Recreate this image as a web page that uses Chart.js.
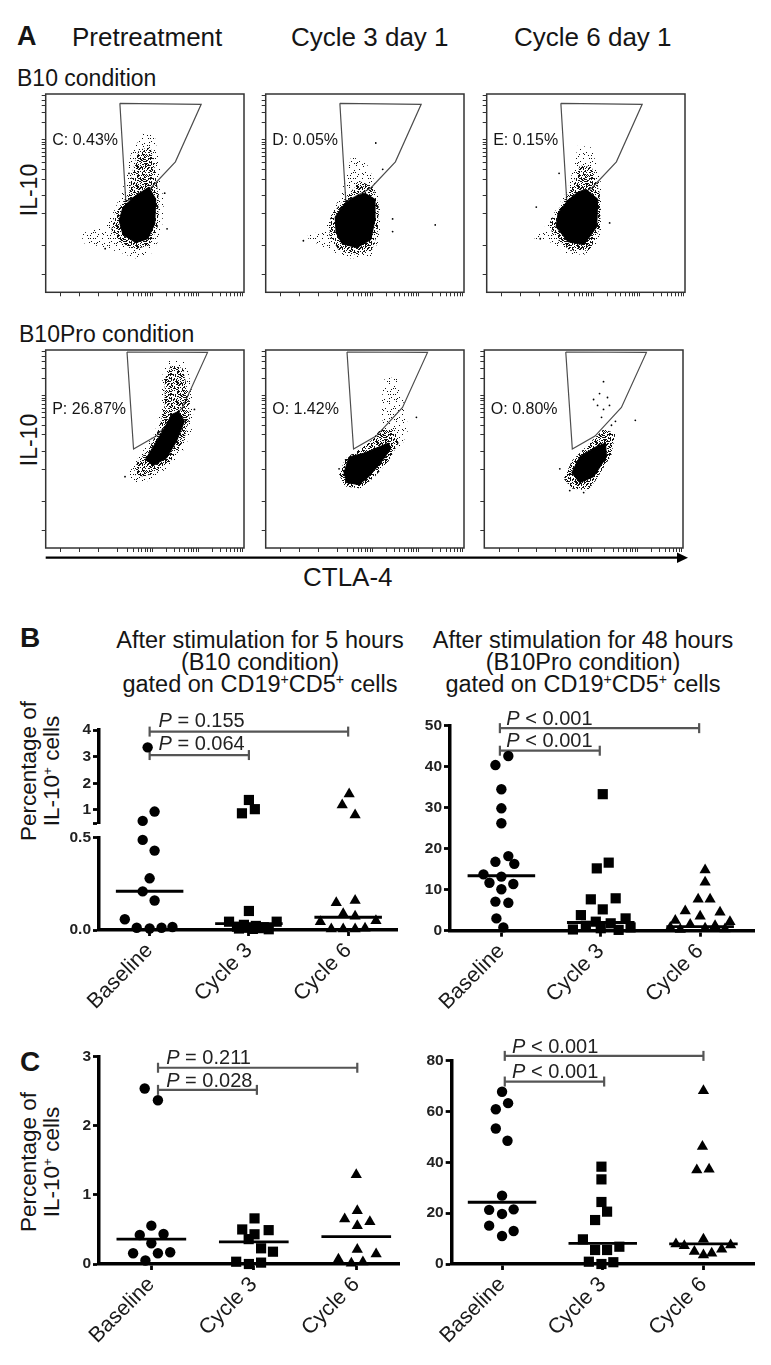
<!DOCTYPE html>
<html>
<head>
<meta charset="utf-8">
<script src="https://cdn.jsdelivr.net/npm/chart.js@4.4.1/dist/chart.umd.min.js"></script>
<style>
  html, body { margin: 0; padding: 0; background: #fff; }
  #fig { position: relative; width: 771px; height: 1365px; overflow: hidden;
         font-family: "Liberation Sans", Arial, Helvetica, sans-serif; color: #151515; }
  #fig canvas { position: absolute; }
  .t { position: absolute; white-space: nowrap; line-height: 1; }
  .rot { position: absolute; white-space: nowrap; text-align: center; transform: translate(-50%, -50%) rotate(-90deg); }
  .ctr { position: absolute; white-space: nowrap; text-align: center; transform: translateX(-50%); }
  sup { font-size: 0.6em; vertical-align: 0; position: relative; top: -0.55em; line-height: 0; }
</style>
</head>
<body>
<div id="fig"></div>
<script>
// ============================================================
// IL-10 / CTLA-4 figure: flow plots (A) + dot plots (B, C)
// ============================================================
const FONT = '"Liberation Sans", Arial, Helvetica, sans-serif';

// ---------- panel A: flow plots, axes in display units 0..1 ----------
const timepoints = ["Pretreatment", "Cycle 3 day 1", "Cycle 6 day 1"];
const flowLabels = ["C: 0.43%", "D: 0.05%", "E: 0.15%", "P: 26.87%", "O: 1.42%", "O: 0.80%"];
const flowYTicks = [0.09, 0.236, 0.395, 0.486, 0.571, 0.621, 0.657, 0.685, 0.707, 0.726, 0.743, 0.757, 0.77,
                    0.855, 0.905, 0.941, 0.969, 0.991];
const flowXTicks = [0.077, 0.17, 0.265, 0.36, 0.415, 0.444, 0.467, 0.485, 0.501, 0.514, 0.526, 0.537,
                    0.607, 0.648, 0.677, 0.7, 0.718, 0.734, 0.747, 0.759, 0.77,
                    0.84, 0.881, 0.91, 0.933, 0.951, 0.967, 0.98, 0.992];

const gateB10    = [[0.374, 0.953], [0.784, 0.948], [0.654, 0.658], [0.529, 0.525], [0.404, 0.458]];
const gateB10Pro = [[0.41, 0.99], [0.816, 0.988], [0.69, 0.71], [0.557, 0.565], [0.443, 0.5]];

// B10, pretreatment
const b10PreCore   = [[0.52,0.53],[0.555,0.47],[0.55,0.345],[0.515,0.27],[0.455,0.25],[0.39,0.29],[0.37,0.362],[0.39,0.43],[0.45,0.485]];
const b10PreDense  = [[0.47,0.72],[0.53,0.73],[0.555,0.6],[0.57,0.47],[0.565,0.33],[0.525,0.24],[0.45,0.215],[0.38,0.25],[0.33,0.31],[0.35,0.4],[0.42,0.5],[0.44,0.62]];
const b10PreSparse = [[0.49,0.8],[0.55,0.79],[0.58,0.6],[0.595,0.44],[0.585,0.3],[0.54,0.2],[0.45,0.17],[0.38,0.2],[0.28,0.23],[0.18,0.25],[0.19,0.3],[0.3,0.33],[0.35,0.42],[0.4,0.56],[0.43,0.7]];
const b10PreDots   = [[0.612,0.32],[0.3,0.22],[0.6,0.5],[0.42,0.6]];
// B10, cycle 3 day 1
const b10C3Core   = [[0.5,0.5],[0.55,0.47],[0.55,0.36],[0.53,0.265],[0.46,0.225],[0.385,0.245],[0.355,0.3],[0.35,0.38],[0.4,0.45],[0.46,0.485]];
const b10C3Dense  = [[0.48,0.56],[0.54,0.53],[0.57,0.44],[0.565,0.3],[0.535,0.21],[0.45,0.19],[0.37,0.21],[0.32,0.29],[0.33,0.39],[0.39,0.46],[0.44,0.52]];
const b10C3Sparse = [[0.43,0.68],[0.5,0.67],[0.55,0.56],[0.58,0.42],[0.575,0.27],[0.53,0.18],[0.43,0.17],[0.35,0.2],[0.25,0.25],[0.2,0.28],[0.28,0.31],[0.33,0.38],[0.38,0.5],[0.41,0.6]];
const b10C3Dots   = [[0.555,0.753],[0.64,0.37],[0.64,0.306],[0.855,0.34],[0.59,0.62],[0.19,0.26]];
// B10, cycle 6 day 1
const b10C6Core   = [[0.5,0.52],[0.56,0.47],[0.555,0.33],[0.49,0.24],[0.41,0.255],[0.35,0.33],[0.36,0.4],[0.41,0.465],[0.46,0.505]];
const b10C6Dense  = [[0.47,0.64],[0.53,0.63],[0.57,0.5],[0.575,0.33],[0.52,0.21],[0.42,0.21],[0.33,0.29],[0.32,0.36],[0.37,0.43],[0.43,0.53]];
const b10C6Sparse = [[0.46,0.74],[0.53,0.73],[0.575,0.56],[0.585,0.42],[0.575,0.27],[0.51,0.19],[0.41,0.19],[0.33,0.25],[0.24,0.27],[0.28,0.31],[0.34,0.4],[0.41,0.52],[0.44,0.64]];
const b10C6Dots   = [[0.62,0.35],[0.25,0.43],[0.365,0.6],[0.27,0.27]];
// B10Pro, pretreatment
const proPreCore   = [[0.67,0.69],[0.7,0.64],[0.66,0.54],[0.61,0.455],[0.54,0.415],[0.505,0.45],[0.55,0.524],[0.6,0.607],[0.635,0.674]];
const proPreDense  = [[0.63,0.92],[0.69,0.91],[0.72,0.78],[0.725,0.66],[0.7,0.55],[0.64,0.45],[0.57,0.39],[0.5,0.36],[0.44,0.37],[0.46,0.43],[0.52,0.5],[0.57,0.6],[0.6,0.72],[0.6,0.85]];
const proPreSparse = [[0.62,0.95],[0.71,0.94],[0.74,0.78],[0.745,0.62],[0.7,0.5],[0.62,0.41],[0.53,0.34],[0.44,0.33],[0.42,0.38],[0.47,0.46],[0.55,0.58],[0.58,0.72],[0.59,0.88]];
const proPreDots   = [[0.75,0.7],[0.4,0.36]];
// B10Pro, cycle 3 day 1
const proC3Core   = [[0.42,0.46],[0.5,0.48],[0.57,0.51],[0.62,0.53],[0.63,0.5],[0.58,0.43],[0.52,0.36],[0.47,0.32],[0.41,0.33],[0.395,0.38]];
const proC3Dense  = [[0.58,0.6],[0.65,0.6],[0.67,0.53],[0.62,0.44],[0.55,0.36],[0.48,0.3],[0.4,0.31],[0.37,0.37],[0.4,0.45],[0.47,0.5],[0.53,0.54]];
const proC3Sparse = [[0.6,0.86],[0.66,0.86],[0.7,0.72],[0.72,0.6],[0.68,0.5],[0.6,0.55],[0.58,0.72]];
const proC3Dots   = [[0.76,0.66],[0.37,0.4]];
// B10Pro, cycle 6 day 1
const proC6Core   = [[0.44,0.38],[0.48,0.46],[0.56,0.51],[0.61,0.53],[0.615,0.46],[0.55,0.36],[0.48,0.33]];
const proC6Dense  = [[0.6,0.6],[0.66,0.58],[0.64,0.47],[0.56,0.34],[0.52,0.29],[0.44,0.3],[0.4,0.35],[0.44,0.44],[0.52,0.52]];
const proC6Sparse = [];
const proC6Dots   = [[0.6,0.84],[0.58,0.78],[0.62,0.76],[0.57,0.72],[0.6,0.7],[0.76,0.645],[0.38,0.4],[0.64,0.62],
                     [0.55,0.75],[0.63,0.72],[0.59,0.66],[0.66,0.64],[0.5,0.28],[0.43,0.29]];

// ---------- panels B and C: dot plots (x = group index + jitter) ----------
const groups = ["Baseline", "Cycle 3", "Cycle 6"];

// B left: 5 h stimulation (B10 condition), broken axis at 0.5
const b5Baseline  = [3.35, 0.94, 0.59, 0.488, 0.43, 0.28, 0.209, 0.16, 0.058, 0.012, 0.008, 0.012, 0.016];
const b5BaselineX = [-0.02, 0.05, -0.07, -0.07, 0.05, 0, -0.07, 0.05, -0.25, -0.13, 0, 0.12, 0.23];
const b5Cycle3    = [1.375, 0.875, 1.03, 0.103, 0.045, 0.045, 0.028, 0.022, 0.018, 0.015, 0.012, 0.01, 0.008, 0.006, 0.004];
const b5Cycle3X   = [0, -0.07, 0.06, 0, -0.2, 0.28, -0.05, 0.07, -0.12, 0.15, -0.02, 0.1, -0.1, 0.04, 0.2];
const b5Cycle6    = [1.6, 1.19, 0.81, 0.148, 0.16, 0.088, 0.075, 0.045, 0.05, 0.005, 0.005, 0.005, 0.01];
const b5Cycle6X   = [0.01, -0.06, 0.07, -0.12, 0.07, -0.05, 0.07, -0.28, 0.28, -0.17, -0.05, 0.07, 0.17];
const b5Medians   = [0.21, 0.035, 0.069];
const b5PValues   = ["= 0.155", "= 0.064"];
const b5UpperTicks = [0.5, 1, 2, 3, 4];
const b5LowerTicks = [0, 0.5];

// B right: 48 h stimulation (B10Pro condition)
const b48Baseline  = [42.6, 40.4, 34.5, 29.85, 26.2, 18.2, 16.8, 16.3, 13.75, 13.2, 11.7, 11.4, 10.1, 7.1, 6.8, 3.0, 0.8];
const b48BaselineX = [0.07, -0.06, 0, 0, 0, 0.07, -0.06, 0.13, -0.18, 0, -0.12, 0.12, 0, -0.06, 0.07, -0.05, 0.02];
const b48Cycle3    = [33.3, 16.6, 15.2, 7.65, 7.9, 5.2, 3.8, 3.0, 2.2, 1.8, 1.2, 0.8, 0.6, 0.3, 0.2];
const b48Cycle3X   = [0.02, 0.08, -0.04, -0.1, 0.15, 0.02, -0.2, 0.25, -0.05, 0.1, -0.15, 0.3, 0, -0.28, 0.18];
const b48Cycle6    = [14.8, 11.8, 7.65, 7.65, 4.8, 4.5, 3.5, 2.5, 2.2, 1.5, 1.2, 0.8, 0.6, 0.4, 0.3];
const b48Cycle6X   = [0.05, 0.05, -0.02, 0.1, -0.15, 0.2, 0, -0.25, 0.3, -0.1, 0.15, -0.3, 0.05, 0.25, -0.2];
const b48Medians   = [13.4, 2.0, 1.0];
const b48PValues   = ["< 0.001", "< 0.001"];
const b48Ticks     = [0, 10, 20, 30, 40, 50];

// C left
const cLeftBaseline  = [2.54, 2.37, 0.555, 0.42, 0.434, 0.3, 0.155, 0.155, 0.17, 0.05];
const cLeftBaselineX = [-0.065, 0.064, 0, -0.113, 0.119, 0, -0.178, 0.064, 0.184, -0.058];
const cLeftCycle3    = [0.66, 0.5, 0.43, 0.49, 0.36, 0.227, 0.178, 0.033, 0.0, 0.02];
const cLeftCycle3X   = [0.007, -0.113, 0.007, 0.145, -0.05, 0.071, 0.187, -0.172, -0.048, 0.071];
const cLeftCycle6    = [1.29, 0.77, 0.65, 0.555, 0.61, 0.21, 0.145, 0.07, 0.01, 0.03];
const cLeftCycle6X   = [0, 0.01, -0.113, 0.01, 0.133, 0.01, 0.194, -0.174, -0.048, 0.065];
const cLeftMedians   = [0.36, 0.32, 0.395];
const cLeftPValues   = ["= 0.211", "= 0.028"];
const cLeftTicks     = [0, 1, 2, 3];

// C right
const cRightBaseline  = [67.8, 60.9, 63.3, 53.3, 48.5, 26.9, 21.3, 19.7, 21.5, 15.1, 13, 11];
const cRightBaselineX = [0, -0.062, 0.06, -0.062, 0.054, 0, -0.128, 0, 0.115, -0.128, 0.115, 0];
const cRightCycle3    = [38.3, 33.3, 24.4, 20.6, 17.3, 9.7, 5.5, 5.5, 6.8, 0.9, 0.0, 0.7];
const cRightCycle3X   = [-0.013, -0.013, -0.013, 0.043, -0.076, -0.197, -0.076, 0.043, 0.165, -0.138, -0.013, 0.105];
const cRightCycle6    = [68.2, 46.2, 37, 37.3, 7.9, 7.2, 9.7, 4.9, 3.5, 4.2, 5.8, 7.5];
const cRightCycle6X   = [0, -0.01, -0.066, 0.056, -0.273, -0.19, 0, -0.09, 0, 0.082, 0.181, 0.27];
const cRightMedians   = [24.3, 8.1, 7.9];
const cRightPValues   = ["< 0.001", "< 0.001"];
const cRightTicks     = [0, 20, 40, 60, 80];

// ============================================================
const fig = document.getElementById("fig");

function addCanvas(left, top, width, height) {
  const c = document.createElement("canvas");
  c.width = width; c.height = height;
  c.style.left = left + "px"; c.style.top = top + "px";
  c.style.width = width + "px"; c.style.height = height + "px";
  fig.appendChild(c);
  return c;
}
function text(html, x, baseline, size, bold) {
  const d = document.createElement("div");
  d.className = "t"; d.innerHTML = html;
  d.style.left = x + "px"; d.style.top = (baseline - 0.8465 * size) + "px";
  d.style.fontSize = size + "px"; if (bold) d.style.fontWeight = "bold";
  fig.appendChild(d);
}
function rotText(html, cx, cy, size, lh) {
  const d = document.createElement("div");
  d.className = "rot"; d.innerHTML = html;
  d.style.left = cx + "px"; d.style.top = cy + "px";
  d.style.fontSize = size + "px"; d.style.lineHeight = (lh || size) + "px";
  fig.appendChild(d);
}
function centerText(html, cx, firstBaseline, size, lh) {
  const d = document.createElement("div");
  d.className = "ctr"; d.innerHTML = html;
  d.style.left = cx + "px";
  d.style.top = (firstBaseline - ((lh - 1.117 * size) / 2 + 0.905 * size)) + "px";
  d.style.fontSize = size + "px"; d.style.lineHeight = lh + "px";
  fig.appendChild(d);
}

// stipple texture for the scattered-event halo (a fill style, fixed hash)
function stipple(count, tile) {
  const c = document.createElement("canvas"); c.width = c.height = tile;
  const g = c.getContext("2d"); g.fillStyle = "#111";
  for (let i = 0; i < count; i++) {
    const h = Math.sin(i * 12.9898 + 78.233) * 43758.5453;
    const k = Math.sin(i * 39.3468 + 11.135) * 24634.6345;
    g.fillRect(Math.floor((h - Math.floor(h)) * tile), Math.floor((k - Math.floor(k)) * tile), 1, 1);
  }
  return g.createPattern(c, "repeat");
}
const densePat = stipple(190, 20);
const sparsePat = stipple(30, 20);

const frameBox = {
  id: "frameBox",
  afterDatasetsDraw(chart) {
    const a = chart.chartArea, ctx = chart.ctx;
    ctx.save(); ctx.strokeStyle = "#333"; ctx.lineWidth = 1.5;
    ctx.strokeRect(a.left, a.top, a.right - a.left, a.bottom - a.top);
    ctx.restore();
  }
};

const annotText = {
  id: "annotText",
  afterDatasetsDraw(chart, args, opts) {
    const items = (opts && opts.items) || [];
    const { ctx, scales: { x, y } } = chart;
    ctx.save(); ctx.fillStyle = "#222"; ctx.textBaseline = "alphabetic"; ctx.textAlign = "left";
    items.forEach(it => {
      const px = x.getPixelForValue(it.x), py = y.getPixelForValue(it.y);
      ctx.font = "italic 20px " + FONT;
      ctx.fillText("P", px, py);
      const w = ctx.measureText("P").width;
      ctx.font = "20px " + FONT;
      ctx.fillText(" " + it.text, px + w, py);
    });
    ctx.restore();
  }
};

function flowAxis(ticks, size, isX) {
  return {
    type: "linear", min: 0, max: 1,
    afterBuildTicks: s => { s.ticks = ticks.map(v => ({ value: v })); },
    ticks: { display: false },
    grid: { drawOnChartArea: false, drawTicks: true, tickLength: 4, tickWidth: 1, tickColor: "#333" },
    border: { display: false },
    afterFit: s => {
      if (isX) s.height = size; else s.width = size;
      s.paddingLeft = s.paddingRight = s.paddingTop = s.paddingBottom = 0;
    }
  };
}

function flowChart(frame, sparse, dense, core, dots, gate) {
  const left = Math.floor(frame.x) - 6, top = Math.floor(frame.y) - 2;
  const right = Math.ceil(frame.x + frame.w) + 2, bottom = Math.ceil(frame.y + frame.h) + 6;
  const cv = addCanvas(left, top, right - left, bottom - top);
  const yW = frame.x - left, padT = frame.y - top, padR = right - (frame.x + frame.w), padB = bottom - (frame.y + frame.h);
  const poly = pts => pts.concat([pts[0]]).map(([x, y]) => ({ x, y }));
  const shape = (pts, fillStyle, order) => ({
    type: "line", data: poly(pts), fill: "shape", backgroundColor: fillStyle,
    borderColor: "rgba(0,0,0,0)", borderWidth: 1, pointRadius: 0, tension: 0, order
  });
  const datasets = [];
  if (sparse.length) datasets.push(shape(sparse, sparsePat, 4));
  datasets.push({ type: "line", data: poly(gate), fill: false, borderColor: "#4d4d4d", borderWidth: 1.2, pointRadius: 0, tension: 0, order: 3 });
  datasets.push(shape(dense, densePat, 2));
  const c = shape(core, "#000", 1); c.borderColor = "#000"; datasets.push(c);
  datasets.push({ type: "scatter", data: dots.map(([x, y]) => ({ x, y })), pointRadius: 0.9, pointBackgroundColor: "#000", pointBorderWidth: 0, order: 0 });
  new Chart(cv, {
    type: "scatter",
    data: { datasets },
    options: {
      responsive: false, animation: false, events: [],
      layout: { padding: { left: 0, top: padT, right: padR, bottom: 0 } },
      plugins: { legend: { display: false }, tooltip: { enabled: false } },
      scales: { x: flowAxis(flowXTicks, padB, true), y: flowAxis(flowYTicks, yW, false) }
    },
    plugins: [frameBox]
  });
}

const markerStyle = [
  { pointStyle: "circle", radius: 5.2 },
  { pointStyle: "rect", radius: 7.2 },
  { pointStyle: "triangle", radius: 6.5 }
];

function dotChart(o) {
  const left = Math.floor(o.area.l - o.yW), top = Math.floor(o.area.t - o.padTop);
  const right = Math.ceil(o.area.r + o.padRight), bottom = Math.ceil(o.area.b + o.padBottom);
  const cv = addCanvas(left, top, right - left, bottom - top);
  const yW = o.area.l - left, padT = o.area.t - top, padR = right - o.area.r, padB = bottom - o.area.b;
  const keep = o.keep || (() => true);
  const datasets = [];
  o.series.forEach((s, g) => {
    const m = markerStyle[g];
    datasets.push({
      data: s.vals.map((v, j) => ({ x: g + 1 + s.xs[j], y: v })).filter(p => keep(p.y)),
      pointStyle: m.pointStyle, pointRadius: m.radius, pointBackgroundColor: "#000",
      pointBorderWidth: 0, clip: false, order: 1
    });
  });
  (o.medians || []).forEach((m, g) => {
    if (!keep(m)) return;
    datasets.push({ data: [{ x: g + 1 - 0.34, y: m }, { x: g + 1 + 0.34, y: m }], showLine: true,
      borderColor: "#000", borderWidth: 2.8, pointRadius: 0, clip: false, order: 2 });
  });
  (o.brackets || []).forEach(b => {
    datasets.push({ data: [{ x: b.from, y: b.y }, { x: b.to, y: b.y }], showLine: true,
      borderColor: "#555", borderWidth: 2.2, pointStyle: "line", pointRadius: 5, pointRotation: 90,
      pointBorderColor: "#555", pointBorderWidth: 2.2, clip: false, order: 3 });
  });
  const xScale = o.showX ? {
    type: "linear", min: o.xMin, max: o.xMax,
    afterBuildTicks: s => { s.ticks = [1, 2, 3].map(v => ({ value: v })); },
    ticks: { callback: (v, i) => groups[i], font: { family: FONT, size: 21.5 }, color: "#1a1a1a",
             minRotation: 45, maxRotation: 45, autoSkip: false, padding: 2 },
    grid: { drawOnChartArea: false, drawTicks: true, tickLength: 6, tickWidth: 2.8, tickColor: "#000" },
    border: { display: true, width: 3.5, color: "#000" },
    afterFit: s => { s.height = padB; s.paddingLeft = s.paddingRight = 0; }
  } : { type: "linear", display: false, min: o.xMin, max: o.xMax };
  new Chart(cv, {
    type: "scatter",
    data: { datasets },
    options: {
      responsive: false, animation: false, events: [],
      layout: { padding: { left: 0, top: padT, right: padR, bottom: o.showX ? 0 : padB } },
      plugins: { legend: { display: false }, tooltip: { enabled: false }, annotText: { items: o.pTexts || [] } },
      scales: {
        x: xScale,
        y: {
          type: "linear", min: o.yMin, max: o.yMax,
          afterBuildTicks: s => { s.ticks = o.yTicks.map(v => ({ value: v })); },
          ticks: { callback: o.yFmt, font: { family: FONT, size: 15.5, weight: "bold" }, color: "#222", padding: 2, autoSkip: false },
          grid: { drawOnChartArea: false, drawTicks: true, tickLength: 6, tickWidth: 2.8, tickColor: "#000" },
          border: { display: true, width: 3.5, color: "#000" },
          afterFit: s => { s.width = yW; s.paddingTop = s.paddingBottom = 0; }
        }
      }
    },
    plugins: [annotText]
  });
}

// ---------------- panel A ----------------
fig.insertAdjacentHTML("beforeend",
  '<svg style="position:absolute;left:0;top:0" width="771" height="600">' +
  '<line x1="45.7" y1="557.7" x2="680" y2="557.7" stroke="#000" stroke-width="2.2"/>' +
  '<polygon points="677,552.5 688,557.7 677,563" fill="#000"/></svg>');

text("A", 17, 46, 27, true);
[72, 291, 514].forEach((x, i) => text(timepoints[i], x, 46, 26));
text("B10 condition", 17, 86, 23);
text("B10Pro condition", 19, 342, 23);
rotText("IL-10", 28.5, 190, 23);
rotText("IL-10", 28.5, 440, 23);
text("CTLA-4", 303, 586, 26);

const frameW = 200.3, frameH = 200;
const row1 = [45.7, 265.7, 486.7].map(x => ({ x, y: 92.3, w: frameW, h: frameH }));
const row2 = [45.7, 265.7, 484.3].map(x => ({ x, y: 348, w: frameW, h: frameH }));

flowChart(row1[0], b10PreSparse, b10PreDense, b10PreCore, b10PreDots, gateB10);
flowChart(row1[1], b10C3Sparse, b10C3Dense, b10C3Core, b10C3Dots, gateB10);
flowChart(row1[2], b10C6Sparse, b10C6Dense, b10C6Core, b10C6Dots, gateB10);
flowChart(row2[0], proPreSparse, proPreDense, proPreCore, proPreDots, gateB10Pro);
flowChart(row2[1], proC3Sparse, proC3Dense, proC3Core, proC3Dots, gateB10Pro);
flowChart(row2[2], proC6Sparse, proC6Dense, proC6Core, proC6Dots, gateB10Pro);

row1.forEach((f, i) => text(flowLabels[i], f.x + 6.5, f.y + 53, 16));
row2.forEach((f, i) => text(flowLabels[i + 3], f.x + 6.5, f.y + 67, 16));

// ---------------- panel B ----------------
text("B", 20, 648, 28, true);
centerText("After stimulation for 5 hours<br>(B10 condition)<br>gated on CD19<sup>+</sup>CD5<sup>+</sup> cells", 260, 648, 23.5, 22);
centerText("After stimulation for 48 hours<br>(B10Pro condition)<br>gated on CD19<sup>+</sup>CD5<sup>+</sup> cells", 583, 648, 23.5, 22);
rotText("Percentage of<br>IL-10<sup>+</sup> cells", 40, 771, 22.5, 23);

const b5Series = [
  { vals: b5Baseline, xs: b5BaselineX },
  { vals: b5Cycle3, xs: b5Cycle3X },
  { vals: b5Cycle6, xs: b5Cycle6X }
];
// upper segment 0.5 - 4
dotChart({
  area: { l: 99, t: 730, r: 400, b: 823.3 }, yW: 45, padTop: 30, padRight: 5, padBottom: 11,
  xMin: 0.49, xMax: 3.5, yMin: 0.5, yMax: 4, yTicks: b5UpperTicks, yFmt: v => (v === 0.5 ? "" : String(v)),
  showX: false, keep: v => v > 0.5, series: b5Series, medians: b5Medians,
  brackets: [{ from: 1, to: 3, y: 3.94 }, { from: 1, to: 2, y: 3.06 }],
  pTexts: [{ x: 1.09, y: 4.12, text: b5PValues[0] }, { x: 1.09, y: 3.25, text: b5PValues[1] }]
});
// lower segment 0 - 0.5
dotChart({
  area: { l: 99, t: 837.7, r: 400, b: 930 }, yW: 45, padTop: 9, padRight: 5, padBottom: 85,
  xMin: 0.49, xMax: 3.5, yMin: 0, yMax: 0.5, yTicks: b5LowerTicks, yFmt: v => v.toFixed(1),
  showX: true, keep: v => v <= 0.5, series: b5Series, medians: b5Medians
});
dotChart({
  area: { l: 450, t: 725.7, r: 757, b: 930.7 }, yW: 45, padTop: 30, padRight: 5, padBottom: 85,
  xMin: 0.483, xMax: 3.55, yMin: 0, yMax: 50, yTicks: b48Ticks, yFmt: v => String(v),
  showX: true,
  series: [
    { vals: b48Baseline, xs: b48BaselineX },
    { vals: b48Cycle3, xs: b48Cycle3X },
    { vals: b48Cycle6, xs: b48Cycle6X }
  ],
  medians: b48Medians,
  brackets: [{ from: 0.985, to: 2.99, y: 49.4 }, { from: 0.985, to: 1.99, y: 43.9 }],
  pTexts: [{ x: 1.05, y: 50.2, text: b48PValues[0] }, { x: 1.05, y: 44.9, text: b48PValues[1] }]
});

// ---------------- panel C ----------------
text("C", 20, 1072, 28, true);
rotText("Percentage of<br>IL-10<sup>+</sup> cells", 40, 1162, 22.5, 23);

dotChart({
  area: { l: 99, t: 1056.7, r: 402, b: 1264 }, yW: 45, padTop: 30, padRight: 5, padBottom: 86,
  xMin: 0.489, xMax: 3.425, yMin: 0, yMax: 3, yTicks: cLeftTicks, yFmt: v => String(v),
  showX: true,
  series: [
    { vals: cLeftBaseline, xs: cLeftBaselineX },
    { vals: cLeftCycle3, xs: cLeftCycle3X },
    { vals: cLeftCycle6, xs: cLeftCycle6X }
  ],
  medians: cLeftMedians,
  brackets: [{ from: 1.065, to: 3.01, y: 2.84 }, { from: 1.065, to: 2.03, y: 2.52 }],
  pTexts: [{ x: 1.145, y: 2.89, text: cLeftPValues[0] }, { x: 1.145, y: 2.566, text: cLeftPValues[1] }]
});
dotChart({
  area: { l: 451.7, t: 1060.7, r: 756.7, b: 1264 }, yW: 45, padTop: 35, padRight: 5, padBottom: 86,
  xMin: 0.5, xMax: 3.51, yMin: 0, yMax: 80, yTicks: cRightTicks, yFmt: v => String(v),
  showX: true,
  series: [
    { vals: cRightBaseline, xs: cRightBaselineX },
    { vals: cRightCycle3, xs: cRightCycle3X },
    { vals: cRightCycle6, xs: cRightCycle6X }
  ],
  medians: cRightMedians,
  brackets: [{ from: 1.027, to: 3.0, y: 81.9 }, { from: 1.027, to: 2.014, y: 71.8 }],
  pTexts: [{ x: 1.1, y: 82.95, text: cRightPValues[0] }, { x: 1.1, y: 73.1, text: cRightPValues[1] }]
});
</script>
</body>
</html>
